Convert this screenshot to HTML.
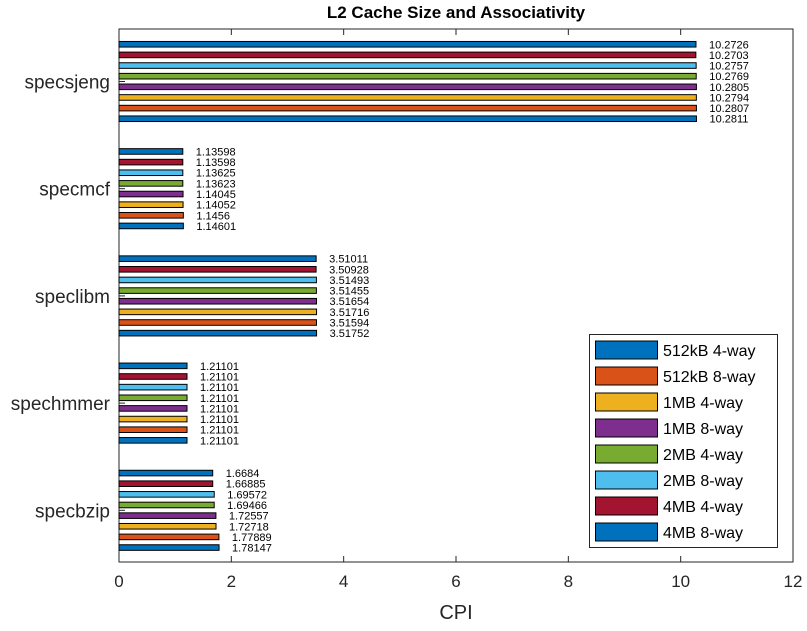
<!DOCTYPE html>
<html><head><meta charset="utf-8"><style>
body{margin:0;background:#fff;}
svg text{font-family:"Liberation Sans",Arial,sans-serif;}
</style></head><body>
<svg id="chart" width="807" height="626" xmlns="http://www.w3.org/2000/svg">
<rect width="807" height="626" fill="#fff"/>
<text x="456" y="18" text-anchor="middle" font-size="17" font-weight="bold" fill="#000">L2 Cache Size and Associativity</text>
<g id="plot"></g>
</svg>
<script>
const categories = ["specsjeng","specmcf","speclibm","spechmmer","specbzip"];
const seriesNames = ["512kB 4-way","512kB 8-way","1MB 4-way","1MB 8-way","2MB 4-way","2MB 8-way","4MB 4-way","4MB 8-way"];
const seriesColors = ["#0072BD","#D95319","#EDB120","#7E2F8E","#77AC30","#4DBEEE","#A2142F","#0072BD"];
const s512k4 = [10.2811, 1.14601, 3.51752, 1.21101, 1.78147];
const s512k8 = [10.2807, 1.1456, 3.51594, 1.21101, 1.77889];
const s1m4 = [10.2794, 1.14052, 3.51716, 1.21101, 1.72718];
const s1m8 = [10.2805, 1.14045, 3.51654, 1.21101, 1.72557];
const s2m4 = [10.2769, 1.13623, 3.51455, 1.21101, 1.69466];
const s2m8 = [10.2757, 1.13625, 3.51493, 1.21101, 1.69572];
const s4m4 = [10.2703, 1.13598, 3.50928, 1.21101, 1.66885];
const s4m8 = [10.2726, 1.13598, 3.51011, 1.21101, 1.6684];
const xTicks = [0,2,4,6,8,10,12];
const series = [s512k4,s512k8,s1m4,s1m8,s2m4,s2m8,s4m4,s4m8];

const NS="http://www.w3.org/2000/svg";
const L=119,R=793,T=29,B=562;
const x = v => L + (v/12)*(R-L);
const yc = i => 81.5 + i*107.2;
const g=document.getElementById('plot');
function mk(tag,attrs,parent){const e=document.createElementNS(NS,tag);for(const k in attrs)e.setAttribute(k,attrs[k]);(parent||g).appendChild(e);return e;}

const box=mk('rect',{x:L,y:T,width:R-L,height:B-T,fill:'none',stroke:'#262626','stroke-width':1});



xTicks.forEach(t=>{
  mk('line',{x1:x(t),x2:x(t),y1:B,y2:B-6,stroke:'#262626'});
  mk('line',{x1:x(t),x2:x(t),y1:T,y2:T+6,stroke:'#262626'});
  const tx=mk('text',{x:x(t),y:B+25,'text-anchor':'middle','font-size':17,fill:'#262626'});
  tx.textContent=t;
  
  
});
const xl=mk('text',{x:(L+R)/2,y:619,'text-anchor':'middle','font-size':20,fill:'#262626'});
xl.textContent='CPI';



categories.forEach((c,i)=>{
  mk('line',{x1:L,x2:L+6,y1:yc(i),y2:yc(i),stroke:'#262626'});
  const t=mk('text',{x:L-9,y:yc(i)+7,'text-anchor':'end','font-size':19,fill:'#262626'});
  t.textContent=c;
  
  
  for(let s=0;s<8;s++){
    const v=series[s][i];
    const by=yc(i)+(3.5-s)*10.64;
    const r=mk('rect',{x:L,y:by-2.8,width:x(v)-L,height:5.6,fill:seriesColors[s],stroke:'#000','stroke-width':1});
    
    
    const lt=mk('text',{x:x(v)+13,y:by+4,'font-size':11,fill:'#000'});
    lt.textContent=String(v);
    
    
  }
});

const lg=mk('g',{});


mk('rect',{x:589.5,y:334.5,width:188,height:213,fill:'#fff',stroke:'#262626'},lg);
seriesNames.forEach((n,s)=>{
  const cy=350+s*26;
  const sw=mk('rect',{x:595.5,y:cy-9,width:62,height:18,fill:seriesColors[s],stroke:'#000'},lg);
  
  
  const t=mk('text',{x:663,y:cy+6,'font-size':16,fill:'#000'},lg);
  t.textContent=n;
  
  
});
</script>
</body></html>
